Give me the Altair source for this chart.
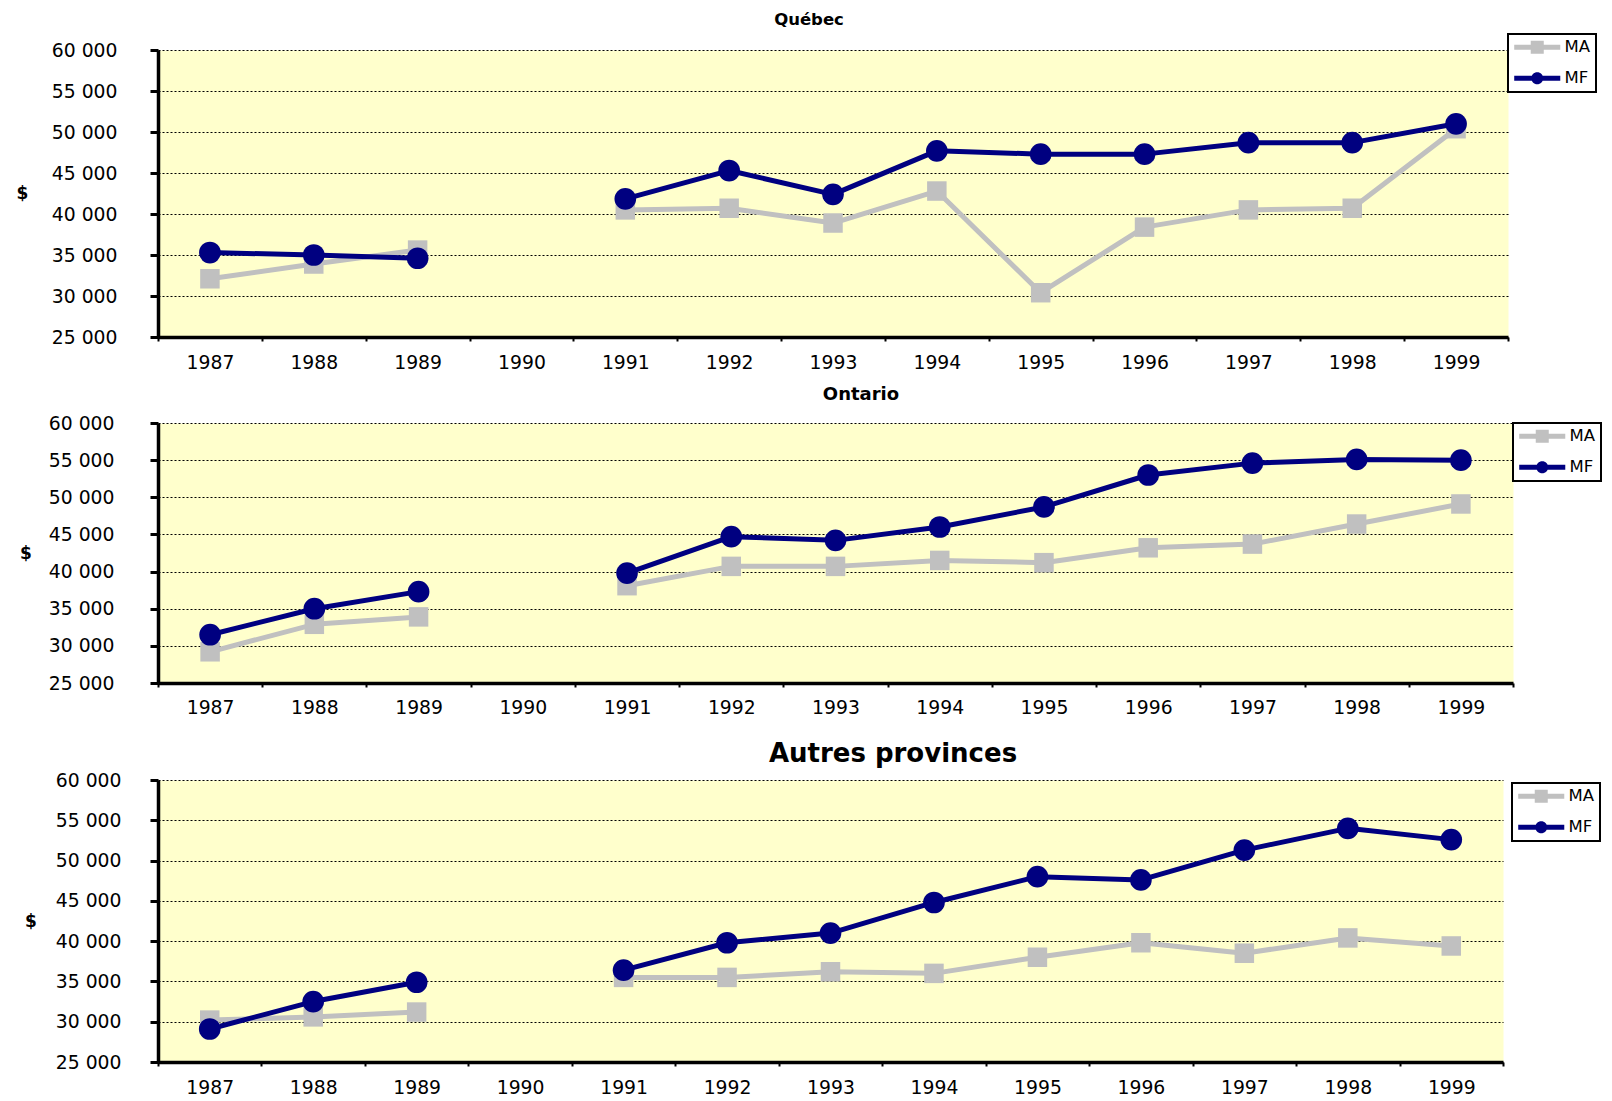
import altair as alt
import pandas as pd

years = [str(y) for y in range(1987, 2000)]
series = ["MA", "MF"]
colors = ["#C0C0C0", "#000080"]

quebec_ma = [32100, 33900, 35600, None, 40500, 40700, 38900, 42800, 30400, 38400, 40500, 40700, 50400]
quebec_mf = [35300, 35000, 34600, None, 41850, 45300, 42400, 47700, 47300, 47300, 48700, 48700, 51000]

ontario_ma = [29200, 32900, 33900, None, 38100, 40700, 40700, 41500, 41200, 43200, 43700, 46400, 49100]
ontario_mf = [31500, 35000, 37300, None, 39800, 44700, 44200, 46000, 48700, 53000, 54600, 55100, 55000]

autres_ma = [30200, 30600, 31200, None, 35500, 35500, 36200, 36000, 38000, 39800, 38500, 40400, 39400]
autres_mf = [29100, 32500, 34900, None, 36400, 39800, 41000, 44800, 48000, 47600, 51300, 54000, 52600]

FONT = "DejaVu Sans"
LABEL_SIZE = 18.8

# legend symbols: line with marker (custom SVG paths, unit = sqrt(size)/2)
PATH_MA = ("M -3.29,-0.36 L 3.29,-0.36 L 3.29,0.36 L -3.29,0.36 Z "
           "M -0.93,-0.93 L 0.93,-0.93 L 0.93,0.93 L -0.93,0.93 Z")
PATH_MF = ("M -3.29,-0.36 L 3.29,-0.36 L 3.29,0.36 L -3.29,0.36 Z "
           "M -0.86,0 A 0.86,0.86 0 1,1 0.86,0 A 0.86,0.86 0 1,1 -0.86,0 Z")


def make_df(ma, mf):
    rows = []
    for s, vals in (("MA", ma), ("MF", mf)):
        for y, v in zip(years, vals):
            if v is None:
                continue
            rows.append({"annee": y, "serie": s, "valeur": v,
                         "segment": "avant" if int(y) < 1990 else "apres"})
    return pd.DataFrame(rows)


def panel(title, ma, mf, w, h, tsize, tdx, toffset, dollar_x, ylabpad, xlabpad, lx, ly):
    df = make_df(ma, mf)
    base = alt.Chart(df)
    x = alt.X("annee:O",
              scale=alt.Scale(type="band", domain=years, paddingInner=0, paddingOuter=0),
              axis=alt.Axis(title=None, labelAngle=0, tickBand="extent", tickSize=4, tickWidth=2,
                            tickColor="black", domainColor="black", domainWidth=3.5,
                            labelFont=FONT, labelFontSize=LABEL_SIZE, labelColor="black",
                            labelPadding=xlabpad, grid=False, labelOverlap=False))
    y = alt.Y("valeur:Q",
              scale=alt.Scale(domain=[25000, 60000], nice=False, zero=False),
              axis=alt.Axis(title="$", titleAngle=0, titleX=dollar_x, titleY=h / 2,
                            titleAlign="center", titleBaseline="middle", titleFont=FONT,
                            titleFontSize=17, titleFontWeight="bold", titleColor="black",
                            values=list(range(25000, 60001, 5000)),
                            labelExpr="replace(format(datum.value, ','), ',', ' ')",
                            labelFont=FONT, labelFontSize=LABEL_SIZE, labelColor="black",
                            labelPadding=ylabpad, labelFlush=False, labelOverlap=False,
                            tickSize=8, tickWidth=3, tickColor="black",
                            domainColor="black", domainWidth=3.5,
                            grid=True, gridColor="black", gridDash=[2, 2], gridWidth=1.2))
    color = alt.Color("serie:N", scale=alt.Scale(domain=series, range=colors), legend=None)

    lines = base.mark_line(strokeWidth=5, strokeJoin="round").encode(
        x=x, y=y, color=color, detail="segment:N")
    points = base.mark_point(filled=True, opacity=1, strokeWidth=0).encode(
        x=x, y=y, color=color,
        shape=alt.Shape("serie:N", scale=alt.Scale(domain=series, range=["square", "circle"]),
                        legend=None),
        size=alt.Size("serie:N", scale=alt.Scale(domain=series, range=[380, 470]), legend=None))
    leg = alt.Legend(title=None, orient="none", legendX=lx, legendY=ly, direction="vertical",
                     labelFont=FONT, labelFontSize=16.5, labelColor="black",
                     symbolSize=196, symbolOffset=16, labelOffset=19, padding=5,
                     rowPadding=14, strokeColor="black", fillColor="white",
                     symbolStrokeWidth=0, symbolOpacity=1)
    legend_layer = base.mark_point(filled=True, opacity=1).encode(
        x=x, y=y,
        color=alt.Color("serie:N", scale=alt.Scale(domain=series, range=colors), legend=leg),
        shape=alt.Shape("serie:N", scale=alt.Scale(domain=series, range=[PATH_MA, PATH_MF]),
                        legend=leg),
    ).transform_filter("false")

    return alt.layer(lines, points, legend_layer).resolve_scale(
        shape="independent", color="independent"
    ).properties(
        width=w, height=h,
        title=alt.TitleParams(title, font=FONT, fontSize=tsize, fontWeight="bold", color="black",
                              anchor="middle", frame="group", dx=tdx, offset=toffset,
                              baseline="alphabetic"),
    )


p1 = panel("Québec", quebec_ma, quebec_mf, 1350, 287, 16.5, -24, -8, -136, 33, 12, 1350, -16)
p2 = panel("Ontario", ontario_ma, ontario_mf, 1355, 260, 18, 25.5, -4, -132.5, 36, 11, 1355, 0)
p3 = panel("Autres provinces", autres_ma, autres_mf, 1345, 282, 26, 62.5, -17, -127.5, 29, 12, 1354, 3)

res_scales = dict(shape="independent", color="independent", size="independent")
res_leg = dict(shape="independent", color="independent")

top = alt.vconcat(p1, p2, spacing=12).resolve_scale(**res_scales).resolve_legend(**res_leg)
chart = alt.vconcat(top, p3, spacing=22).resolve_scale(**res_scales).resolve_legend(**res_leg)

chart = chart.properties(
    padding={"left": 7, "top": 3, "right": 0, "bottom": 0},
    background="white",
).configure_view(
    fill="#FFFFCC", stroke="transparent"
).configure_legend(
    strokeWidth=2
)

chart.save("out.html", embed_options={"renderer": "svg", "actions": False})
